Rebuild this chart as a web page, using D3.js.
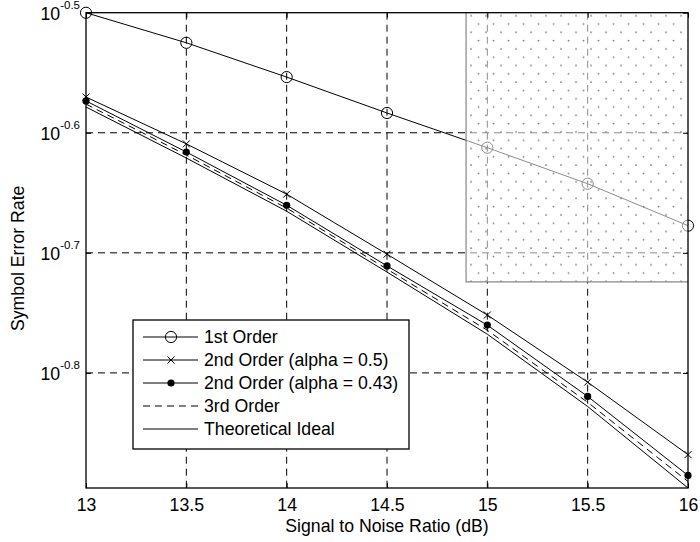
<!DOCTYPE html>
<html>
<head>
<meta charset="utf-8">
<script src="https://cdn.jsdelivr.net/npm/d3@7"></script>
<style>
  html, body { margin: 0; padding: 0; background: #fff; }
  svg { display: block; font-family: "Liberation Sans", Arial, Helvetica, sans-serif; }
</style>
</head>
<body>
<svg id="chart" width="700" height="542"></svg>
<script>
// ---- data ----
const snr = [13, 13.5, 14, 14.5, 15, 15.5, 16];
const firstOrder   = [0.3162, 0.2985, 0.2795, 0.2609, 0.2441, 0.2278, 0.2102];
const secondA050   = [0.2690, 0.2459, 0.2233, 0.1990, 0.1771, 0.1557, 0.1355];
const secondA043   = [0.2670, 0.2421, 0.2186, 0.1946, 0.1737, 0.1515, 0.1302];
const thirdOrder   = [0.2654, 0.2407, 0.2174, 0.1934, 0.1720, 0.1498, 0.1287];
const theoretical  = [0.2639, 0.2393, 0.2161, 0.1923, 0.1707, 0.1486, 0.1271];
const xTicks = [13, 13.5, 14, 14.5, 15, 15.5, 16];
const xTickLabels = ["13", "13.5", "14", "14.5", "15", "15.5", "16"];
const yTicks = [0.31623, 0.25119, 0.19953, 0.15849];
const yTickExponents = ["-0.5", "-0.6", "-0.7", "-0.8"];
const yDomain = [0.1271, 0.31623];
const legendLabels = ["1st Order", "2nd Order (alpha = 0.5)", "2nd Order (alpha = 0.43)", "3rd Order", "Theoretical Ideal"];
const shadedRegion = { x0: 14.894, x1: 16, y0: 0.1887, y1: 0.31623 };

// ---- layout ----
const L = 86, R = 688, T = 12.7, B = 488;
const svg = d3.select("#chart");
const x = d3.scaleLinear().domain([13, 16]).range([L, R]);
const y = d3.scaleLog().domain(yDomain).range([B, T]);
const FS = 17.7;

// grid
const grid = svg.append("g").attr("stroke", "#000").attr("stroke-width", 1).attr("stroke-dasharray", "7,5");
grid.selectAll("line.gx").data(xTicks.filter(v => v > 13 && v < 16)).join("line")
  .attr("x1", d => x(d)).attr("x2", d => x(d)).attr("y1", T).attr("y2", B);
grid.selectAll("line.gy").data(yTicks.filter(v => v < 0.31)).join("line")
  .attr("x1", L).attr("x2", R).attr("y1", d => y(d)).attr("y2", d => y(d));

// series
const line = d3.line().x(d => x(d[0])).y(d => y(d[1]));
const zip = arr => snr.map((s, i) => [s, arr[i]]);
const series = [
  { data: firstOrder, dash: null, marker: "o" },
  { data: secondA050, dash: null, marker: "x" },
  { data: secondA043, dash: null, marker: "dot" },
  { data: thirdOrder, dash: "7,5", marker: null },
  { data: theoretical, dash: null, marker: null }
];
const gS = svg.append("g");
function drawMarker(g, type, cx, cy) {
  if (type === "o") {
    g.append("circle").attr("cx", cx).attr("cy", cy).attr("r", 5.6)
      .attr("fill", "none").attr("stroke", "#000").attr("stroke-width", 1);
  } else if (type === "x") {
    const s = 3.5;
    g.append("path").attr("d", `M${cx-s},${cy-s}L${cx+s},${cy+s}M${cx-s},${cy+s}L${cx+s},${cy-s}`)
      .attr("stroke", "#000").attr("stroke-width", 1);
  } else if (type === "dot") {
    g.append("circle").attr("cx", cx).attr("cy", cy).attr("r", 3.6).attr("fill", "#000");
  }
}
series.forEach(s => {
  gS.append("path").datum(zip(s.data)).attr("d", line)
    .attr("fill", "none").attr("stroke", "#000").attr("stroke-width", 1)
    .attr("stroke-dasharray", s.dash);
  if (s.marker) zip(s.data).forEach(p => drawMarker(gS, s.marker, x(p[0]), y(p[1])));
});

// shaded region with dot pattern
const defs = svg.append("defs");
const rx0 = x(shadedRegion.x0), ry1 = y(shadedRegion.y0), ry0 = y(shadedRegion.y1), rx1 = x(shadedRegion.x1);
const pat = defs.append("pattern").attr("id", "dots").attr("patternUnits", "userSpaceOnUse")
  .attr("width", 15).attr("height", 16.6).attr("x", rx0).attr("y", ry0);
pat.append("rect").attr("width", 15).attr("height", 16.6).attr("fill", "#fff").attr("fill-opacity", 0.55);
pat.append("circle").attr("cx", 5).attr("cy", 3).attr("r", 0.9).attr("fill", "#777");
pat.append("circle").attr("cx", 12.5).attr("cy", 11.3).attr("r", 0.9).attr("fill", "#777");
svg.append("rect").attr("x", rx0).attr("y", ry0).attr("width", rx1 - rx0).attr("height", ry1 - ry0)
  .attr("fill", "url(#dots)");
svg.append("path").attr("d", `M${rx0},${ry0}V${ry1}H${rx1}`).attr("fill", "none")
  .attr("stroke", "#888").attr("stroke-width", 1.2);

// axes
const xAxis = d3.axisBottom(x).tickValues(xTicks).tickFormat((d, i) => xTickLabels[i]).tickSizeInner(-5).tickSizeOuter(0).tickPadding(10);
const gx = svg.append("g").attr("transform", `translate(0,${B})`).call(xAxis);
gx.select(".domain").remove();
gx.selectAll("text").attr("font-size", FS).attr("font-family", "Liberation Sans, Arial, sans-serif").attr("fill", "#000");
gx.selectAll("line").attr("stroke", "#000");
const gxTop = svg.append("g").attr("transform", `translate(0,${T})`).call(d3.axisTop(x).tickValues(xTicks).tickFormat("").tickSizeInner(-5).tickSizeOuter(0));
gxTop.select(".domain").remove();

const yAxis = d3.axisLeft(y).tickValues(yTicks).tickFormat("").tickSizeInner(-5).tickSizeOuter(0).tickPadding(6);
const gy = svg.append("g").attr("transform", `translate(${L},0)`).call(yAxis);
gy.select(".domain").remove();
gy.selectAll(".tick").each(function(d, i) {
  const t = d3.select(this).append("text").attr("x", -6).attr("y", 6.5)
    .attr("text-anchor", "end").attr("fill", "#000").attr("font-size", FS)
    .attr("font-family", "Liberation Sans, Arial, sans-serif");
  t.append("tspan").text("10");
  t.append("tspan").attr("font-size", 11.5).attr("dy", -10.5).text(yTickExponents[i]);
});
const gyR = svg.append("g").attr("transform", `translate(${R},0)`).call(d3.axisRight(y).tickValues(yTicks).tickFormat("").tickSizeInner(-5).tickSizeOuter(0));
gyR.select(".domain").remove();

// box
svg.append("rect").attr("x", L).attr("y", T).attr("width", R - L).attr("height", B - T)
  .attr("fill", "none").attr("stroke", "#000").attr("stroke-width", 1.3);

// axis labels
svg.append("text").attr("x", (L + R) / 2).attr("y", 532).attr("text-anchor", "middle")
  .attr("font-size", FS).text("Signal to Noise Ratio (dB)");
svg.append("text").attr("transform", `translate(24,${(T + B) / 2 + 8}) rotate(-90)`).attr("text-anchor", "middle")
  .attr("font-size", FS).text("Symbol Error Rate");

// legend
const lg = svg.append("g");
lg.append("rect").attr("x", 133).attr("y", 320).attr("width", 409 - 133).attr("height", 449 - 320)
  .attr("fill", "#fff").attr("stroke", "#000").attr("stroke-width", 1.3);
legendLabels.forEach((lab, i) => {
  const cy = 337 + i * 23;
  lg.append("line").attr("x1", 143).attr("x2", 198).attr("y1", cy).attr("y2", cy)
    .attr("stroke", "#000").attr("stroke-width", 1).attr("stroke-dasharray", series[i].dash);
  if (series[i].marker) drawMarker(lg, series[i].marker, 171, cy);
  lg.append("text").attr("x", 204).attr("y", cy + 6).attr("font-size", FS).text(lab);
});
</script>
</body>
</html>
